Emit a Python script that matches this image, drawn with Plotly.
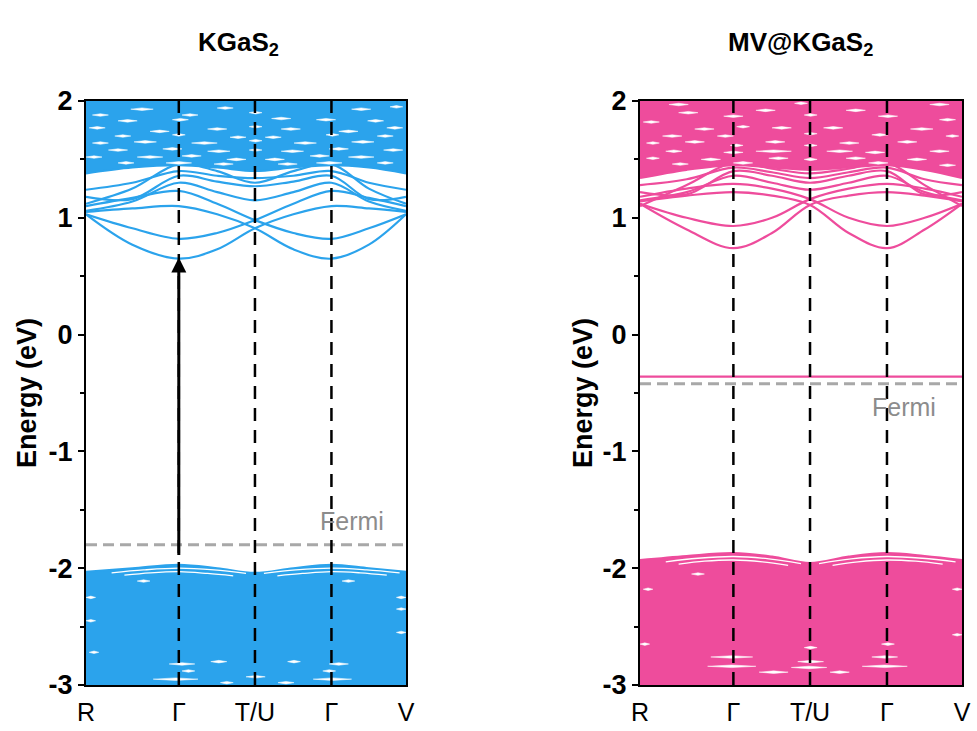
import plotly.graph_objects as go

# ---------------- data ----------------
K_LABELS = ["R", "Γ", "T/U", "Γ", "V"]
K_TICKS = [0.0, 0.29, 0.528, 0.767, 1.0]
# k samples: R, mid, Γ, mid, T/U, mid, Γ, mid, V
K_GRID = [0.0, 0.145, 0.29, 0.41, 0.528, 0.648, 0.767, 0.884, 1.0]

Y_RANGE = [-3, 2]
Y_TICKS = [-3, -2, -1, 0, 1, 2]
Y_TICK_TEXT = ["-3", "-2", "-1", "0", "1", "2"]

# --- KGaS2 ---
KGAS_CB_BANDS = [
    [1.03, 0.77, 0.65, 0.73, 0.91, 1.03, 1.10, 1.08, 1.05],
    [1.05, 1.08, 1.10, 1.03, 0.91, 0.73, 0.65, 0.77, 1.03],
    [1.03, 0.91, 0.82, 0.87, 0.98, 1.12, 1.23, 1.17, 1.10],
    [1.10, 1.17, 1.23, 1.12, 0.98, 0.87, 0.82, 0.91, 1.03],
    [1.06, 1.14, 1.30, 1.22, 1.15, 1.22, 1.30, 1.14, 1.06],
    [1.18, 1.16, 1.36, 1.31, 1.27, 1.31, 1.36, 1.16, 1.18],
    [1.24, 1.30, 1.40, 1.36, 1.34, 1.36, 1.40, 1.30, 1.24],
    [1.12, 1.25, 1.46, 1.40, 1.30, 1.40, 1.46, 1.25, 1.12],
]
KGAS_CB_FLOOR = [1.38, 1.43, 1.45, 1.43, 1.40, 1.43, 1.45, 1.43, 1.38]
KGAS_VB_TOP = [-2.03, -2.0, -1.97, -2.0, -2.04, -2.0, -1.97, -2.0, -2.03]
KGAS_VB_GAP_K = [[0.08, 0.18, 0.29, 0.40, 0.50], [0.12, 0.20, 0.29, 0.38, 0.46],
                 [0.556, 0.656, 0.767, 0.877, 0.98], [0.598, 0.677, 0.767, 0.857, 0.94]]
KGAS_VB_GAP_E = [[-2.04, -2.015, -2.0, -2.015, -2.045], [-2.06, -2.04, -2.03, -2.045, -2.065],
                 [-2.045, -2.015, -2.0, -2.015, -2.04], [-2.065, -2.045, -2.03, -2.04, -2.06]]
# lens-shaped gaps inside the dense manifolds: (k start, k end, energy)
KGAS_FLECKS = [
    (0.14, 0.21, 1.93), (0.41, 0.46, 1.94), (0.83, 0.89, 1.93), (0.95, 0.99, 1.95),
    (0.51, 0.55, 1.90), (0.02, 0.07, 1.88), (0.30, 0.35, 1.88),
    (0.10, 0.16, 1.83), (0.27, 0.32, 1.84), (0.58, 0.64, 1.85), (0.72, 0.78, 1.84), (0.88, 0.93, 1.83),
    (0.01, 0.06, 1.77), (0.20, 0.26, 1.74), (0.38, 0.44, 1.76), (0.51, 0.55, 1.78), (0.61, 0.67, 1.76),
    (0.79, 0.85, 1.74), (0.94, 0.99, 1.77),
    (0.09, 0.14, 1.70), (0.27, 0.31, 1.71), (0.45, 0.50, 1.69), (0.56, 0.61, 1.69), (0.75, 0.79, 1.71),
    (0.91, 0.96, 1.70),
    (0.02, 0.07, 1.64), (0.15, 0.22, 1.65), (0.33, 0.41, 1.64), (0.51, 0.55, 1.66), (0.65, 0.72, 1.64),
    (0.83, 0.90, 1.65),
    (0.07, 0.13, 1.58), (0.24, 0.30, 1.59), (0.38, 0.45, 1.57), (0.51, 0.55, 1.58), (0.61, 0.68, 1.57),
    (0.76, 0.82, 1.59), (0.93, 0.99, 1.58),
    (0.00, 0.05, 1.52), (0.16, 0.24, 1.52), (0.30, 0.36, 1.53), (0.44, 0.50, 1.50), (0.56, 0.62, 1.50),
    (0.70, 0.76, 1.53), (0.82, 0.90, 1.52),
    (0.10, 0.15, 1.47), (0.25, 0.33, 1.47), (0.40, 0.46, 1.46), (0.60, 0.66, 1.46), (0.72, 0.80, 1.47),
    (0.91, 0.96, 1.47),
    (0.26, 0.34, -2.82), (0.21, 0.35, -2.95), (0.39, 0.44, -2.80), (0.42, 0.46, -2.98), (0.50, 0.56, -2.93),
    (0.60, 0.65, -2.98), (0.63, 0.67, -2.80), (0.71, 0.83, -2.95), (0.76, 0.82, -2.82), (0.00, 0.03, -2.45),
    (0.97, 1.00, -2.55), (0.30, 0.34, -2.88), (0.74, 0.78, -2.88), (0.01, 0.04, -2.72), (0.97, 1.00, -2.35),
    (0.16, 0.20, -2.11), (0.80, 0.84, -2.11), (0.00, 0.03, -2.25), (0.97, 1.00, -2.25),
]
KGAS_FERMI = -1.80
KGAS_ARROW = [-1.90, 0.66]
KGAS_FERMI_LABEL = (0.83, -1.60)

# --- MV@KGaS2 ---
MV_CB_BANDS = [
    [1.12, 0.90, 0.74, 0.87, 1.11, 1.19, 1.22, 1.19, 1.14],
    [1.14, 1.19, 1.22, 1.19, 1.11, 0.87, 0.74, 0.90, 1.12],
    [1.12, 1.00, 0.93, 1.00, 1.16, 1.25, 1.29, 1.25, 1.18],
    [1.18, 1.25, 1.29, 1.25, 1.16, 1.00, 0.93, 1.00, 1.12],
    [1.15, 1.22, 1.36, 1.30, 1.24, 1.30, 1.36, 1.22, 1.15],
    [1.22, 1.20, 1.40, 1.36, 1.30, 1.36, 1.40, 1.20, 1.22],
    [1.28, 1.33, 1.43, 1.39, 1.34, 1.39, 1.43, 1.33, 1.28],
    [1.10, 1.28, 1.47, 1.42, 1.38, 1.42, 1.47, 1.28, 1.10],
]
MV_CB_FLOOR = [1.34, 1.41, 1.45, 1.43, 1.41, 1.43, 1.45, 1.41, 1.34]
MV_VB_TOP = [-1.93, -1.895, -1.87, -1.90, -1.955, -1.90, -1.87, -1.895, -1.93]
MV_VB_GAP_K = [[0.08, 0.18, 0.29, 0.40, 0.50], [0.12, 0.20, 0.29, 0.38, 0.46],
               [0.556, 0.656, 0.767, 0.877, 0.98], [0.598, 0.677, 0.767, 0.857, 0.94]]
MV_VB_GAP_E = [[-1.945, -1.915, -1.90, -1.92, -1.96], [-1.965, -1.94, -1.93, -1.945, -1.975],
               [-1.96, -1.92, -1.90, -1.915, -1.945], [-1.975, -1.945, -1.93, -1.94, -1.965]]
MV_FLECKS = [
    (0.09, 0.15, 1.97), (0.48, 0.52, 1.98), (0.90, 0.96, 1.97),
    (0.26, 0.32, 1.87), (0.74, 0.80, 1.87), (0.12, 0.18, 1.90), (0.36, 0.42, 1.92), (0.64, 0.70, 1.92),
    (0.51, 0.55, 1.88), (0.01, 0.06, 1.82), (0.93, 0.98, 1.84),
    (0.17, 0.23, 1.76), (0.41, 0.47, 1.77), (0.57, 0.63, 1.77), (0.84, 0.91, 1.76), (0.30, 0.34, 1.78),
    (0.07, 0.13, 1.70), (0.24, 0.29, 1.70), (0.51, 0.55, 1.72), (0.72, 0.77, 1.71), (0.95, 0.99, 1.70),
    (0.02, 0.06, 1.64), (0.14, 0.20, 1.65), (0.39, 0.45, 1.65), (0.62, 0.68, 1.64), (0.80, 0.86, 1.65),
    (0.28, 0.32, 1.62), (0.51, 0.55, 1.62),
    (0.08, 0.13, 1.57), (0.26, 0.32, 1.56), (0.36, 0.47, 1.57), (0.58, 0.66, 1.57), (0.70, 0.76, 1.56),
    (0.90, 0.96, 1.57),
    (0.02, 0.06, 1.51), (0.19, 0.25, 1.50), (0.40, 0.46, 1.51), (0.64, 0.70, 1.51), (0.83, 0.89, 1.50),
    (0.51, 0.55, 1.50), (0.10, 0.15, 1.46), (0.29, 0.35, 1.47), (0.71, 0.77, 1.47), (0.93, 0.98, 1.45),
    (0.21, 0.36, -2.84), (0.22, 0.35, -2.76), (0.47, 0.58, -2.85), (0.49, 0.57, -2.80), (0.69, 0.83, -2.84),
    (0.72, 0.80, -2.76), (0.37, 0.46, -2.89), (0.59, 0.65, -2.89), (0.51, 0.55, -2.68), (0.00, 0.03, -2.65),
    (0.01, 0.04, -2.18), (0.97, 1.00, -2.57), (0.97, 1.00, -2.18), (0.75, 0.79, -2.65), (0.16, 0.20, -2.05),
]
MV_FLAT_BAND = -0.36
MV_FERMI = -0.42
MV_FERMI_LABEL = (0.82, -0.62)

# ---------------- styling ----------------
BLUE = "#2BA3EC"
PINK = "#EE4C9C"
FONT = "Liberation Sans, Arial, sans-serif"
FLECK_HALF = 0.011  # half thickness of a gap lens, eV

fig = go.Figure()


def add_panel(xa, ya, color, cb_bands, cb_floor, vb_top, gap_k, gap_e, flecks):
    base = [Y_RANGE[0] - 0.3] * len(K_GRID)
    fig.add_trace(go.Scatter(x=K_GRID, y=base, mode="lines", line=dict(width=0, color=color),
                             xaxis=xa, yaxis=ya, hoverinfo="skip", showlegend=False))
    fig.add_trace(go.Scatter(x=K_GRID, y=vb_top, mode="lines", fill="tonexty", fillcolor=color,
                             line=dict(color=color, width=2, shape="spline", smoothing=1.0),
                             xaxis=xa, yaxis=ya, hoverinfo="skip", showlegend=False))
    fig.add_trace(go.Scatter(x=K_GRID, y=cb_floor, mode="lines",
                             line=dict(color=color, width=2, shape="spline", smoothing=1.0),
                             xaxis=xa, yaxis=ya, hoverinfo="skip", showlegend=False))
    ceil = [Y_RANGE[1] + 0.3] * len(K_GRID)
    fig.add_trace(go.Scatter(x=K_GRID, y=ceil, mode="lines", fill="tonexty", fillcolor=color,
                             line=dict(width=0, color=color),
                             xaxis=xa, yaxis=ya, hoverinfo="skip", showlegend=False))
    for band in cb_bands:
        fig.add_trace(go.Scatter(x=K_GRID, y=band, mode="lines",
                                 line=dict(color=color, width=2.2, shape="spline", smoothing=1.0),
                                 xaxis=xa, yaxis=ya, hoverinfo="skip", showlegend=False))
    for gk, ge in zip(gap_k, gap_e):
        fig.add_trace(go.Scatter(x=gk, y=ge, mode="lines",
                                 line=dict(color="white", width=1.3, shape="spline"),
                                 xaxis=xa, yaxis=ya, hoverinfo="skip", showlegend=False))
    fx, fy = [], []
    for k0, k1, e in flecks:
        km = (k0 + k1) / 2
        fx += [k0, km, k1, km, k0, None]
        fy += [e, e + FLECK_HALF, e, e - FLECK_HALF, e, None]
    fig.add_trace(go.Scatter(x=fx, y=fy, mode="lines", fill="toself", fillcolor="white",
                             line=dict(color="white", width=0.5),
                             xaxis=xa, yaxis=ya, hoverinfo="skip", showlegend=False))


def add_overlays(xa, ya, fermi):
    fig.add_trace(go.Scatter(x=[K_TICKS[0], K_TICKS[-1]], y=[fermi, fermi], mode="lines",
                             line=dict(color="#A8A8A8", width=3, dash="11px,6px"),
                             xaxis=xa, yaxis=ya, hoverinfo="skip", showlegend=False))
    vx, vy = [], []
    for k in K_TICKS[1:-1]:
        vx += [k, k, None]
        vy += [Y_RANGE[0], Y_RANGE[1], None]
    fig.add_trace(go.Scatter(x=vx, y=vy, mode="lines",
                             line=dict(color="black", width=2.5, dash="13px,9px"),
                             xaxis=xa, yaxis=ya, hoverinfo="skip", showlegend=False))


add_panel("x", "y", BLUE, KGAS_CB_BANDS, KGAS_CB_FLOOR, KGAS_VB_TOP,
          KGAS_VB_GAP_K, KGAS_VB_GAP_E, KGAS_FLECKS)
add_overlays("x", "y", KGAS_FERMI)

add_panel("x2", "y2", PINK, MV_CB_BANDS, MV_CB_FLOOR, MV_VB_TOP,
          MV_VB_GAP_K, MV_VB_GAP_E, MV_FLECKS)
fig.add_trace(go.Scatter(x=[K_TICKS[0], K_TICKS[-1]], y=[MV_FLAT_BAND, MV_FLAT_BAND], mode="lines",
                         line=dict(color=PINK, width=2.2), xaxis="x2", yaxis="y2",
                         hoverinfo="skip", showlegend=False))
add_overlays("x2", "y2", MV_FERMI)

xaxis_common = dict(range=[K_TICKS[0], K_TICKS[-1]], tickvals=K_TICKS, ticktext=K_LABELS,
                    ticks="", showline=True, linewidth=2, linecolor="black", mirror=True,
                    showgrid=False, zeroline=False, ticklabelstandoff=4,
                    tickfont=dict(family=FONT, size=25, color="black"))
yaxis_common = dict(range=Y_RANGE, tickvals=Y_TICKS, ticktext=Y_TICK_TEXT, ticks="outside", ticklen=6,
                    tickwidth=2, tickcolor="black", showline=True, linewidth=2, linecolor="black",
                    mirror=True, showgrid=False, zeroline=False,
                    minor=dict(dtick=0.5, ticks="outside", ticklen=4, tickwidth=1.5, tickcolor="black"),
                    tickfont=dict(family=FONT, size=27, color="black", weight="bold"))


def paper_text(text, x, y, size, angle=0, color="black"):
    return dict(text=text, x=x, y=y, xref="paper", yref="paper", xanchor="center", yanchor="middle",
                showarrow=False, textangle=angle, font=dict(family=FONT, size=size, color=color))


fig.update_layout(
    width=977, height=731, margin=dict(l=0, r=0, t=0, b=0, autoexpand=False),
    paper_bgcolor="white", plot_bgcolor="white",
    xaxis=dict(domain=[86 / 977, 406 / 977], anchor="y", **xaxis_common),
    yaxis=dict(domain=[46 / 731, 630 / 731], anchor="x", **yaxis_common),
    xaxis2=dict(domain=[640 / 977, 962 / 977], anchor="y2", **xaxis_common),
    yaxis2=dict(domain=[46 / 731, 630 / 731], anchor="x2", **yaxis_common),
    annotations=[
        paper_text("<b>KGaS<sub>2</sub></b>", 238 / 977, 1 - 43 / 731, 26),
        paper_text("<b>MV@KGaS<sub>2</sub></b>", 800 / 977, 1 - 43 / 731, 26),
        paper_text("<b>Energy (eV)</b>", 27 / 977, (731 - 393) / 731, 27, angle=-90),
        paper_text("<b>Energy (eV)</b>", 583 / 977, (731 - 393) / 731, 27, angle=-90),
        dict(text="Fermi", x=KGAS_FERMI_LABEL[0], y=KGAS_FERMI_LABEL[1], xref="x", yref="y",
             xanchor="center", yanchor="middle", showarrow=False,
             font=dict(family=FONT, size=25, color="#8C8C8C")),
        dict(text="Fermi", x=MV_FERMI_LABEL[0], y=MV_FERMI_LABEL[1], xref="x2", yref="y2",
             xanchor="center", yanchor="middle", showarrow=False,
             font=dict(family=FONT, size=25, color="#8C8C8C")),
        dict(x=K_TICKS[1], y=KGAS_ARROW[1], ax=K_TICKS[1], ay=KGAS_ARROW[0], xref="x", yref="y",
             axref="x", ayref="y", showarrow=True, arrowhead=2, arrowsize=1, arrowwidth=3,
             arrowcolor="black", standoff=0, text=""),
    ],
)

fig.write_html("out.html")
